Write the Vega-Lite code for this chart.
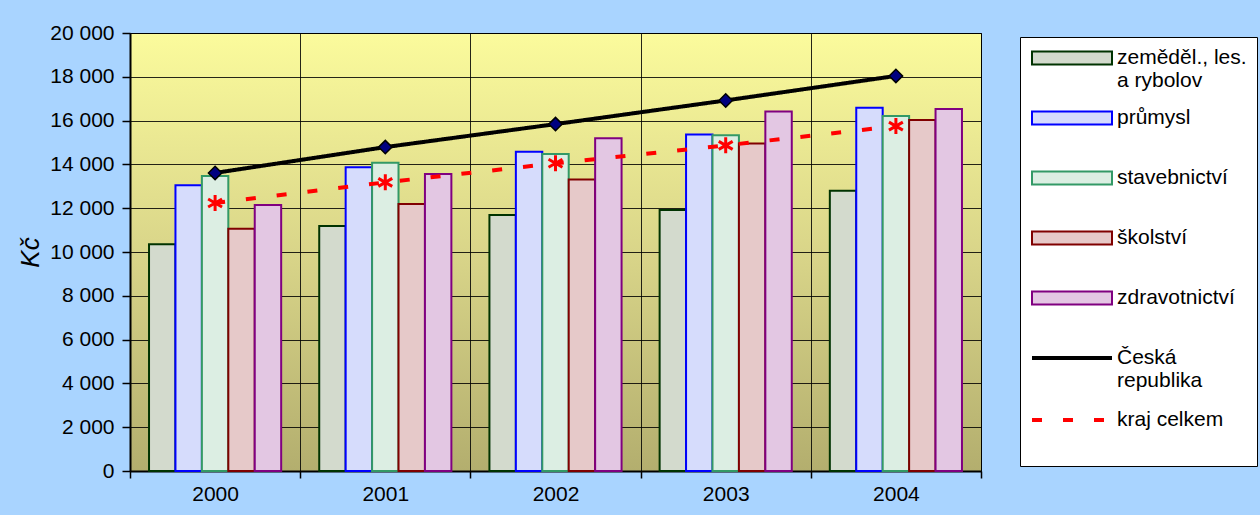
{
  "$schema": "https://vega.github.io/schema/vega-lite/v6.json",
  "width": 851,
  "height": 438,
  "autosize": {"type": "none"},
  "padding": {"left": 130, "top": 33, "right": 279, "bottom": 44},
  "background": "#A9D4FF",
  "view": {
    "stroke": "#000000",
    "strokeWidth": 1,
    "fill": {
      "gradient": "linear",
      "x1": 0, "y1": 0, "x2": 0, "y2": 1,
      "stops": [
        {"offset": 0, "color": "#FBFB9C"},
        {"offset": 0.5, "color": "#D9D589"},
        {"offset": 1, "color": "#B3AE6E"}
      ]
    }
  },
  "config": {
    "font": "Liberation Sans",
    "axis": {
      "labelFont": "Liberation Sans",
      "labelFontSize": 21,
      "labelColor": "#000000",
      "domainColor": "#000000",
      "domainWidth": 2,
      "tickColor": "#000000",
      "tickWidth": 1.5,
      "gridColor": "#000000",
      "gridWidth": 1,
      "gridOpacity": 0.85,
      "titleColor": "#000000",
      "titleFont": "Liberation Sans"
    },
    "axisY": {
      "labelExpr": "replace(format(datum.value, ',d'), ',', ' ')",
      "tickCount": 10,
      "tickSize": 8,
      "labelPadding": 8,
      "titleFontStyle": "italic",
      "titleFontSize": 26,
      "titleFontWeight": "normal",
      "titlePadding": 6
    },
    "axisX": {
      "labelAngle": 0,
      "tickBand": "extent",
      "tickSize": 7,
      "labelPadding": 5,
      "grid": true
    },
    "legend": {
      "labelFont": "Liberation Sans",
      "labelFontSize": 21,
      "labelColor": "#000000",
      "labelLimit": 300,
      "symbolOpacity": 1,
      "gridAlign": "all"
    }
  },
  "data": {
    "values": [
      {"rok": "2000", "serie": "zeměděl., les. a rybolov", "mzda": 10350},
      {"rok": "2000", "serie": "průmysl", "mzda": 13050},
      {"rok": "2000", "serie": "stavebnictví", "mzda": 13470},
      {"rok": "2000", "serie": "školství", "mzda": 11060},
      {"rok": "2000", "serie": "zdravotnictví", "mzda": 12150},
      {"rok": "2000", "serie": "Česká republika", "mzda": 13610},
      {"rok": "2000", "serie": "kraj celkem", "mzda": 12240},
      {"rok": "2001", "serie": "zeměděl., les. a rybolov", "mzda": 11190},
      {"rok": "2001", "serie": "průmysl", "mzda": 13870},
      {"rok": "2001", "serie": "stavebnictví", "mzda": 14080},
      {"rok": "2001", "serie": "školství", "mzda": 12190},
      {"rok": "2001", "serie": "zdravotnictví", "mzda": 13560},
      {"rok": "2001", "serie": "Česká republika", "mzda": 14790},
      {"rok": "2001", "serie": "kraj celkem", "mzda": 13180},
      {"rok": "2002", "serie": "zeměděl., les. a rybolov", "mzda": 11690},
      {"rok": "2002", "serie": "průmysl", "mzda": 14580},
      {"rok": "2002", "serie": "stavebnictví", "mzda": 14470},
      {"rok": "2002", "serie": "školství", "mzda": 13310},
      {"rok": "2002", "serie": "zdravotnictví", "mzda": 15190},
      {"rok": "2002", "serie": "Česká republika", "mzda": 15840},
      {"rok": "2002", "serie": "kraj celkem", "mzda": 14050},
      {"rok": "2003", "serie": "zeměděl., les. a rybolov", "mzda": 11920},
      {"rok": "2003", "serie": "průmysl", "mzda": 15370},
      {"rok": "2003", "serie": "stavebnictví", "mzda": 15330},
      {"rok": "2003", "serie": "školství", "mzda": 14960},
      {"rok": "2003", "serie": "zdravotnictví", "mzda": 16410},
      {"rok": "2003", "serie": "Česká republika", "mzda": 16920},
      {"rok": "2003", "serie": "kraj celkem", "mzda": 14870},
      {"rok": "2004", "serie": "zeměděl., les. a rybolov", "mzda": 12800},
      {"rok": "2004", "serie": "průmysl", "mzda": 16590},
      {"rok": "2004", "serie": "stavebnictví", "mzda": 16210},
      {"rok": "2004", "serie": "školství", "mzda": 16030},
      {"rok": "2004", "serie": "zdravotnictví", "mzda": 16530},
      {"rok": "2004", "serie": "Česká republika", "mzda": 18040},
      {"rok": "2004", "serie": "kraj celkem", "mzda": 15750}
    ]
  },
  "layer": [
    {
      "transform": [{"filter": {"field": "serie", "oneOf": ["zeměděl., les. a rybolov", "průmysl", "stavebnictví", "školství", "zdravotnictví"]}}],
      "mark": {"type": "bar", "strokeWidth": 2},
      "encoding": {
        "x": {"field": "rok", "type": "nominal", "title": null, "scale": {"paddingInner": 0, "paddingOuter": 0}},
        "xOffset": {"field": "serie", "type": "nominal", "scale": {"domain": ["zeměděl., les. a rybolov", "průmysl", "stavebnictví", "školství", "zdravotnictví"], "paddingInner": 0, "paddingOuter": 0.72}},
        "y": {"field": "mzda", "type": "quantitative", "scale": {"domain": [0, 20000], "nice": false}, "title": "Kč"},
        "fill": {
          "field": "serie",
          "type": "nominal",
          "scale": {
            "domain": ["zeměděl., les. a rybolov", "průmysl", "stavebnictví", "školství", "zdravotnictví"],
            "range": ["#D3DACD", "#D6DCFC", "#DCEEE3", "#E6C9C9", "#E3C7E3"]
          },
          "legend": {
            "orient": "none",
            "legendX": 890,
            "legendY": 4,
            "title": " ",
            "titleOrient": "bottom",
            "titleFontSize": 21,
            "titlePadding": 126,
            "fillColor": "#FFFFFF",
            "strokeColor": "#000000",
            "padding": 10,
            "symbolType": "M-4,-0.65H4V0.65H-4Z",
            "symbolSize": 400,
            "symbolStrokeWidth": 2,
            "symbolOffset": 31,
            "labelOffset": 34,
            "rowPadding": 16,
            "labelExpr": "datum.value === 'zeměděl., les. a rybolov' ? ['zeměděl., les.', 'a rybolov'] : datum.label"
          }
        },
        "stroke": {
          "field": "serie",
          "type": "nominal",
          "scale": {
            "domain": ["zeměděl., les. a rybolov", "průmysl", "stavebnictví", "školství", "zdravotnictví"],
            "range": ["#003300", "#0000FF", "#339966", "#800000", "#800080"]
          }
        }
      }
    },
    {
      "transform": [{"filter": {"field": "serie", "oneOf": ["Česká republika", "kraj celkem"]}}],
      "mark": {"type": "line", "strokeWidth": 4},
      "encoding": {
        "x": {"field": "rok", "type": "nominal", "title": null},
        "y": {"field": "mzda", "type": "quantitative", "scale": {"domain": [0, 20000], "nice": false}, "title": "Kč"},
        "color": {
          "field": "serie",
          "type": "nominal",
          "scale": {"domain": ["Česká republika", "kraj celkem"], "range": ["#000000", "#FF0000"]},
          "legend": {
            "orient": "none",
            "legendX": 902,
            "legendY": 313,
            "title": null,
            "padding": 0,
            "symbolType": "M-4,0H4",
            "symbolSize": 400,
            "symbolStrokeWidth": 4,
            "symbolOffset": 28,
            "labelOffset": 33,
            "rowPadding": 17,
            "labelExpr": "datum.value === 'Česká republika' ? ['Česká', 'republika'] : datum.label"
          }
        },
        "strokeDash": {
          "field": "serie",
          "type": "nominal",
          "scale": {"domain": ["Česká republika", "kraj celkem"], "range": [[1, 0], [10, 21]]}
        }
      }
    },
    {
      "transform": [{"filter": {"field": "serie", "equal": "Česká republika"}}],
      "mark": {"type": "point", "shape": "diamond", "filled": true, "fill": "#000080", "stroke": "#000000", "strokeWidth": 1.5, "size": 180, "opacity": 1},
      "encoding": {
        "x": {"field": "rok", "type": "nominal", "title": null},
        "y": {"field": "mzda", "type": "quantitative", "scale": {"domain": [0, 20000], "nice": false}, "title": "Kč"}
      }
    },
    {
      "transform": [{"filter": {"field": "serie", "equal": "kraj celkem"}}],
      "mark": {"type": "point", "shape": "M0,-1V1M-0.87,-0.5L0.87,0.5M-0.87,0.5L0.87,-0.5", "filled": false, "stroke": "#FF0000", "strokeWidth": 3, "size": 256, "opacity": 1},
      "encoding": {
        "x": {"field": "rok", "type": "nominal", "title": null},
        "y": {"field": "mzda", "type": "quantitative", "scale": {"domain": [0, 20000], "nice": false}, "title": "Kč"}
      }
    }
  ]
}
